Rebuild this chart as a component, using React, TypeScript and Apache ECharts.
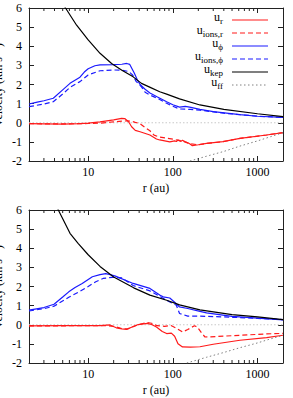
import React, { useEffect, useRef } from "react";
import * as echarts from "echarts";

const SERIF = "'Liberation Serif', 'DejaVu Serif', 'Times New Roman', serif";
const X_MIN = 2;
const X_MAX = 2000;
const Y_MIN = -2;
const Y_MAX = 6;
const xTickLabels = [10, 100, 1000];
const minorTicks = [3, 4, 5, 6, 7, 8, 9, 20, 30, 40, 50, 60, 70, 80, 90, 200, 300, 400, 500, 600, 700, 800, 900];
const zeroLine = [[2, 0], [2000, 0]];

// ---- top panel ----
const topUr = [[2, -0.05], [3, -0.06], [5, -0.07], [8, -0.05], [10, -0.02], [13.8, 0.05], [20, 0.15], [24.8, 0.23], [27, 0.22], [30, 0.05], [32.6, -0.21], [36, -0.4], [41, -0.47], [53.6, -0.64], [64, -0.85], [70, -0.9], [92, -1.0], [105, -0.95], [110, -0.98], [115, -0.9], [120, -0.95], [125, -0.97], [130, -0.92], [140, -1.0], [150, -1.05], [158, -1.1], [170, -1.2], [200, -1.15], [250, -1.08], [390, -0.99], [620, -0.82], [1280, -0.64], [2000, -0.52]];
const topUionsR = [[2, -0.05], [5, -0.06], [10, -0.04], [13.8, -0.02], [20, 0.05], [29, 0.1], [33, 0.07], [36, 0.02], [41, -0.05], [47, -0.25], [53.6, -0.42], [60, -0.65], [70, -0.75], [100, -0.86], [130, -0.95], [160, -1.1], [200, -1.15], [250, -1.08], [390, -0.99], [620, -0.82], [1280, -0.64], [2000, -0.52]];
const topUphi = [[2, 0.98], [2.5, 1.08], [3, 1.15], [3.87, 1.28], [5, 1.72], [6.1, 2.06], [8, 2.38], [9, 2.65], [10, 2.82], [12, 2.98], [13.8, 3.03], [20, 3.04], [25, 3.06], [28.5, 3.1], [31, 3.05], [35, 2.6], [38, 2.25], [41, 2.0], [47, 1.75], [53.6, 1.56], [65, 1.36], [84.5, 1.1], [100, 0.94], [120, 0.82], [140, 0.86], [158, 0.82], [209, 0.7], [300, 0.58], [620, 0.42], [1000, 0.34], [2000, 0.28]];
const topUionsPhi = [[2, 0.84], [3, 0.98], [3.87, 1.1], [5, 1.5], [6.1, 1.85], [8, 2.15], [10, 2.5], [13.8, 2.72], [20, 2.76], [25.6, 2.74], [30, 2.68], [33.5, 2.5], [37, 2.15], [42.6, 1.88], [47, 1.6], [53.6, 1.45], [70, 1.22], [84.5, 1.02], [100, 0.86], [120, 0.72], [160, 0.7], [209, 0.66], [400, 0.5], [1000, 0.34], [2000, 0.28]];
const topUkep = [[4.8, 6.4], [5.4, 6.0], [7.3, 5.1], [10, 4.33], [13.8, 3.63], [18.9, 3.1], [25, 2.75], [34, 2.4], [42.6, 2.06], [54, 1.85], [70, 1.62], [84.5, 1.5], [120, 1.25], [209, 0.93], [400, 0.7], [1000, 0.47], [2000, 0.32]];
const topUff = [[159, -2], [250, -1.75], [400, -1.5], [620, -1.22], [1000, -0.95], [1400, -0.74], [2000, -0.52]];

// ---- bottom panel ----
const botUr = [[2, -0.06], [5, -0.05], [10, -0.05], [13.8, -0.05], [18, -0.01], [21.5, -0.16], [25, -0.22], [28.5, -0.24], [33, -0.12], [39, 0.01], [50, 0.07], [57, 0.0], [64, -0.12], [75, -0.35], [84.5, -0.46], [96, -0.44], [105, -0.6], [115, -0.99], [130, -1.16], [160, -1.17], [209, -1.15], [300, -1.02], [620, -0.81], [1280, -0.67], [2000, -0.55]];
const botUionsR = [[2, -0.06], [10, -0.05], [16, -0.04], [20, -0.08], [25, -0.2], [29, -0.22], [34, -0.1], [40, 0.02], [50, 0.12], [56, 0.08], [65, -0.05], [80, -0.08], [95, -0.04], [110, -0.18], [130, -0.38], [150, -0.25], [180, -0.05], [195, -0.12], [220, -0.45], [240, -0.64], [320, -0.62], [620, -0.55], [1280, -0.48], [2000, -0.45]];
const botUphi = [[2, 0.76], [3, 0.9], [3.95, 1.07], [5, 1.45], [5.9, 1.72], [7, 1.95], [8.5, 2.16], [11.2, 2.51], [13.8, 2.62], [16.1, 2.67], [18.2, 2.62], [21, 2.54], [34, 2.16], [53.6, 1.9], [70, 1.55], [77, 1.46], [92, 1.4], [110, 1.1], [120, 0.93], [150, 0.85], [209, 0.7], [250, 0.62], [500, 0.44], [1000, 0.35], [2000, 0.26]];
const botUionsPhi = [[2, 0.72], [3, 0.84], [3.95, 0.97], [5.9, 1.44], [7.8, 1.72], [10, 2.0], [12.3, 2.25], [15, 2.42], [19.2, 2.48], [25, 2.45], [34, 2.05], [53.6, 1.77], [84.5, 1.28], [110, 1.02], [120, 0.59], [150, 0.45], [209, 0.45], [400, 0.41], [1000, 0.33], [2000, 0.27]];
const botUkep = [[4.2, 6.3], [4.44, 6.0], [6.1, 4.78], [7.6, 4.26], [10, 3.66], [13.8, 3.05], [20, 2.5], [34.5, 1.93], [53.6, 1.55], [84.5, 1.28], [120, 1.04], [209, 0.78], [500, 0.53], [1000, 0.41], [2000, 0.27]];
const botUff = [[146, -2], [250, -1.7], [400, -1.45], [620, -1.2], [1000, -0.95], [1400, -0.75], [2000, -0.55]];

const legendSubs = ["r", "ions,r", "ϕ", "ions,ϕ", "kep", "ff"];

const RED = "#ff1a1a";
const BLUE = "#1a1aff";
const BLACK = "#000000";
const GRAY = "#808080";
const DASH = [5, 3];
const DOT = [1.5, 2.5];

const styles = [
  { color: RED, type: "solid" as any },
  { color: RED, type: DASH as any },
  { color: BLUE, type: "solid" as any },
  { color: BLUE, type: DASH as any },
  { color: BLACK, type: "solid" as any },
  { color: GRAY, type: DOT as any },
];

const AX = "#222";

function lineSeries(name: string, data: number[][], idx: number, g: number, extra: any = {}) {
  const s = styles[idx];
  return {
    type: "line",
    name,
    data,
    xAxisIndex: g * 2,
    yAxisIndex: g * 2,
    symbol: "none",
    showSymbol: false,
    silent: true,
    clip: true,
    z: 3 + idx,
    lineStyle: { color: s.color, width: idx === 5 ? 1 : 1.2, type: s.type },
    ...extra,
  };
}

export default function App() {
  const ref = useRef<HTMLDivElement>(null);
  useEffect(() => {
    if (!ref.current) return;
    const chart = echarts.init(ref.current, undefined, { renderer: "svg" });
    const grids = [
      { left: 29, top: 8, width: 254, height: 153 },
      { left: 29, top: 210, width: 254, height: 153 },
    ];
    const xAxes: any[] = [];
    const yAxes: any[] = [];
    grids.forEach((_, g) => {
      const baseX = {
        type: "log",
        logBase: 10,
        gridIndex: g,
        min: X_MIN,
        max: X_MAX,
        splitLine: { show: false },
        axisLine: { show: true, onZero: false, lineStyle: { color: AX, width: 1 } },
        axisTick: { show: true, inside: true, length: 5, lineStyle: { color: AX } },
      };
      xAxes.push({
        ...baseX,
        position: "bottom",
        axisLabel: {
          show: true,
          margin: 5,
          fontFamily: SERIF,
          fontSize: 12,
          color: "#000",
          showMinLabel: false,
          showMaxLabel: false,
          formatter: (v: number) => {
            const r = Math.round(v);
            return xTickLabels.indexOf(r) >= 0 ? String(r) : "";
          },
        },
        name: "r (au)",
        nameLocation: "middle",
        nameGap: 21,
        nameTextStyle: { fontFamily: SERIF, fontSize: 12, fontWeight: "normal", color: "#000" },
      });
      xAxes.push({ ...baseX, position: "top", axisLabel: { show: false } });
      const baseY = {
        type: "value",
        gridIndex: g,
        min: Y_MIN,
        max: Y_MAX,
        interval: 1,
        splitLine: { show: false },
        axisLine: { show: true, onZero: false, lineStyle: { color: AX, width: 1 } },
        axisTick: { show: true, inside: true, length: 5, lineStyle: { color: AX } },
      };
      yAxes.push({
        ...baseY,
        position: "left",
        axisLabel: { show: true, margin: 7, fontFamily: SERIF, fontSize: 12, color: "#000" },
      });
      yAxes.push({ ...baseY, position: "right", axisLabel: { show: false } });
    });

    const panels = [
      [topUr, topUionsR, topUphi, topUionsPhi, topUkep, topUff],
      [botUr, botUionsR, botUphi, botUionsPhi, botUkep, botUff],
    ];
    const names = ["u_r", "u_ions,r", "u_phi", "u_ions,phi", "u_kep", "u_ff"];
    const series: any[] = [];
    panels.forEach((arrs, g) => {
      series.push({
        type: "line",
        name: "zero" + g,
        data: zeroLine,
        xAxisIndex: g * 2,
        yAxisIndex: g * 2,
        symbol: "none",
        silent: true,
        z: 1,
        lineStyle: { color: "#c8c8c8", width: 1, type: [1.5, 2] },
      });
      arrs.forEach((d, i) => series.push(lineSeries(names[i] + "_" + g, d, i, g)));
      series.push({
        type: "custom",
        name: "minor" + g,
        xAxisIndex: g * 2,
        yAxisIndex: g * 2,
        silent: true,
        clip: false,
        z: 10,
        data: minorTicks.map((v) => [v, 0]),
        renderItem: (params: any, api: any) => {
          const b = api.coord([api.value(0), Y_MIN]);
          const t = api.coord([api.value(0), Y_MAX]);
          return {
            type: "group",
            children: [
              { type: "line", shape: { x1: b[0], y1: b[1], x2: b[0], y2: b[1] - 3 }, style: { stroke: AX, lineWidth: 1 } },
              { type: "line", shape: { x1: t[0], y1: t[1], x2: t[0], y2: t[1] + 3 }, style: { stroke: AX, lineWidth: 1 } },
            ],
          };
        },
      });
    });

    const graphics: any[] = [];
    const legY = [20, 33, 46, 59, 72, 85];
    legendSubs.forEach((sub, i) => {
      graphics.push({
        type: "text",
        x: 223,
        y: legY[i] + 1,
        z: 100,
        style: {
          text: "{u|u}{s|" + sub + "}",
          align: "right",
          verticalAlign: "middle",
          fill: "#000",
          rich: {
            u: { fontFamily: SERIF, fontSize: 12, lineHeight: 9, fill: "#000", padding: [0, 0, 3, 0], verticalAlign: "bottom" },
            s: { fontFamily: SERIF, fontSize: 9, lineHeight: 8, fill: "#000", verticalAlign: "bottom" },
          },
        },
      });
      const s = styles[i];
      graphics.push({
        type: "line",
        z: 100,
        shape: { x1: 232, y1: legY[i], x2: 268, y2: legY[i] },
        style: { stroke: s.color, lineWidth: i === 5 ? 1 : 1.2, lineDash: s.type === "solid" ? null : s.type },
      });
    });
    [85, 287].forEach((cy) => {
      graphics.push({
        type: "text",
        x: 4,
        y: cy,
        rotation: Math.PI / 2,
        style: {
          text: "Velocity (km s⁻¹)",
          fontFamily: SERIF,
          fontSize: 12,
          fill: "#000",
          align: "center",
          verticalAlign: "bottom",
        },
      });
    });

    chart.setOption({
      animation: false,
      backgroundColor: "#fff",
      grid: grids,
      xAxis: xAxes,
      yAxis: yAxes,
      series,
      graphic: graphics,
    });
    return () => chart.dispose();
  }, []);
  return <div ref={ref} style={{ position: "absolute", left: 0, top: 0, width: 293, height: 398 }} />;
}
